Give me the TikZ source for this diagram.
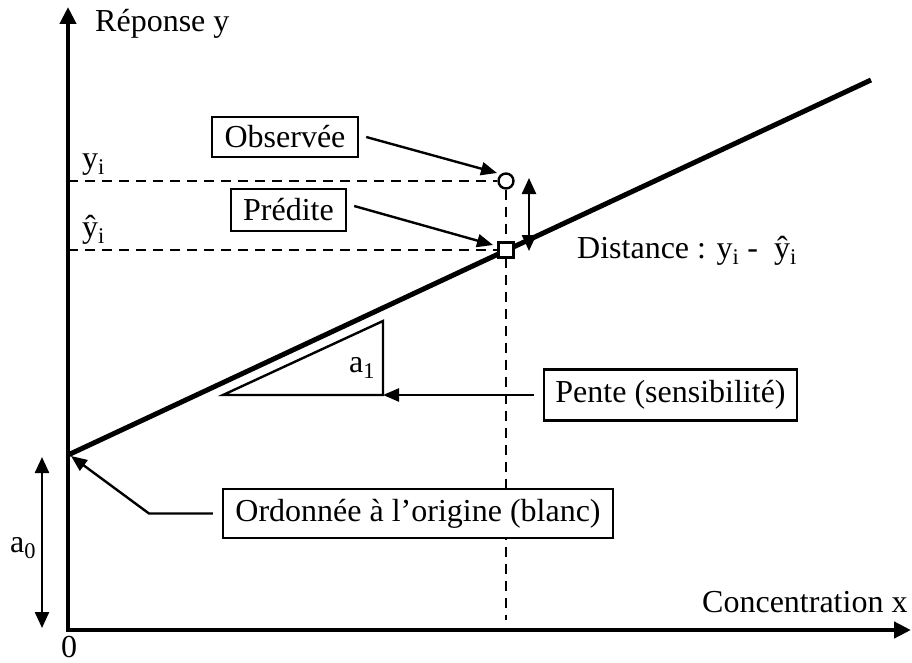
\documentclass[tikz,border=0pt]{standalone}
\usepackage{fontspec}
\setmainfont{Liberation Serif}
\usetikzlibrary{arrows.meta,backgrounds}
\begin{document}
\begin{tikzpicture}[x=1pt,y=-1pt,
  every node/.style={font=\fontsize{32}{38}\selectfont, inner sep=0pt},
  box/.style={draw, fill=white, line width=2.4pt},
  thinarrow/.style={line width=2.4pt, -{Triangle[length=16pt,width=13pt]}},
  dbl/.style={line width=2.4pt, {Triangle[length=16pt,width=14pt]}-{Triangle[length=16pt,width=14pt]}},
  guide/.style={line width=2.4pt, dash pattern=on 10pt off 7pt},
  axisline/.style={line width=4.5pt, {Triangle[length=17pt,width=16pt]}-{Triangle[length=17pt,width=16pt]}},
  marker/.style={draw, fill=white, line width=2.4pt, minimum size=15pt}
]
\useasboundingbox (0,0) rectangle (912,663);
% coordinates
\coordinate (O) at (68,630);
\coordinate (ytop) at (68,7);
\coordinate (xend) at (911,630);
\coordinate (aStart) at (68,455);
\coordinate (aTip) at (71,456);
\coordinate (lEnd) at (871,80);
\coordinate (yiL) at (68,181);
\coordinate (yhL) at (68,250);
\coordinate (vBot) at (506,620);
\coordinate (tL) at (223,395);
\coordinate (tR) at (383,395);
\coordinate (tT) at (383,321);
\coordinate (dTop) at (529,178);
\coordinate (dBot) at (529,251);
\coordinate (a0Top) at (42,457);
\coordinate (a0Bot) at (42,628);
\coordinate (elb) at (149,513.5);

% points
\node[marker, circle] (obsPt) at (506,181) {};
\node[marker, rectangle] (predPt) at (506,250) {};

% boxes
\node[box, minimum width=146pt, minimum height=40pt] (obs) at (285,137) {Observée};
\node[box, minimum width=115pt, minimum height=42pt] (pred) at (288.5,210) {Prédite};
\node[box, minimum width=253pt, minimum height=51pt] (pente) at (670.5,395) {Pente (sensibilité)};
\node[box, minimum width=390pt, minimum height=49pt] (ord) at (418,513.5) {Ordonnée à l’origine (blanc)};

% labels
\node[anchor=base west] (ylab) at (95,32) {Réponse y};
\node[anchor=base west] (xlab) at (702,612) {Concentration x};
\node[anchor=base west] (yi) at (82,168) {y\textsubscript{i}};
\node[anchor=base west] (yh) at (82,237) {ŷ\textsubscript{i}};
\node[anchor=base west] (dist) at (577,258) {Distance : y\textsubscript{i} - \ ŷ\textsubscript{i}};
\node[anchor=base west] (a1) at (349,372) {a\textsubscript{1}};
\node[anchor=base west] (a0) at (10,552) {a\textsubscript{0}};
\node[anchor=base] (zero) at (69,657) {0};

% background lines
\begin{pgfonlayer}{background}
  \draw[guide] (yiL) -- (obsPt.west);
  \draw[guide] (yhL) -- (predPt.west);
  \draw[guide] (obsPt.south) -- (vBot);
  \draw[line width=5pt] (aStart) -- (lEnd);
\end{pgfonlayer}

% axes
\draw[axisline] (ytop) -- (O) -- (xend);

% slope triangle
\draw[line width=2.4pt, line join=miter] (tL) -- (tR) -- (tT) -- cycle;

% arrows
\draw[thinarrow] ([xshift=7pt]obs.east) -- ([shift={(-9,-8)}]obsPt.center);
\draw[thinarrow] ([shift={(7,-4)}]pred.east) -- ([shift={(-13,-5)}]predPt.center);
\draw[thinarrow] ([xshift=-9pt]pente.west) -- (tR);
\draw[thinarrow] ([xshift=-9pt]ord.west) -- (elb) -- (aTip);
\draw[dbl] (dTop) -- (dBot);
\draw[dbl] (a0Top) -- (a0Bot);
\end{tikzpicture}
\end{document}
